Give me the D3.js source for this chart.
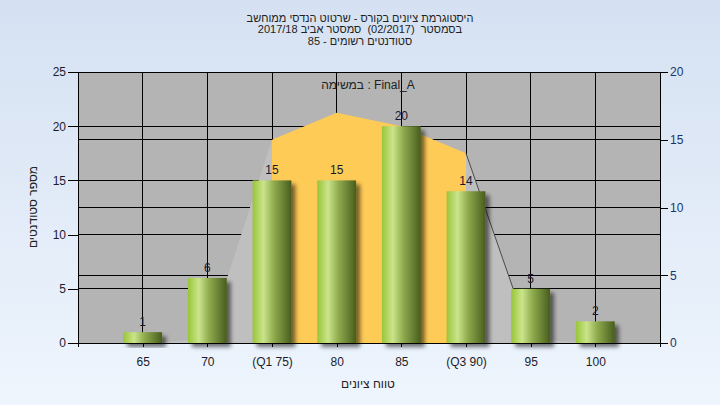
<!DOCTYPE html>
<html>
<head>
<meta charset="utf-8">
<script src="https://cdn.jsdelivr.net/npm/d3@7"></script>
<style>
  html, body { margin: 0; padding: 0; }
  body { width: 720px; height: 405px; overflow: hidden; }
  text { font-family: "Liberation Sans", "DejaVu Sans", Arial, sans-serif; }
</style>
</head>
<body>
<svg id="chart" width="720" height="405"></svg>
<script>
// ---- data ----
const categories = ["65", "70", "(Q1 75)", "80", "85", "(Q3 90)", "95", "100"];
const counts = [1, 6, 15, 15, 20, 14, 5, 2];
const curveValues = [0, 0.3, 15, 17, 16, 14, 0.3, 0];
const leftTicks = [0, 5, 10, 15, 20, 25];
const rightTicks = [0, 5, 10, 15, 20];
const titleLines = [
  "היסטוגרמת ציונים בקורס - שרטוט הנדסי ממוחשב",
  "בסמסטר  (02/2017)  סמסטר אביב 2017/18",
  "סטודנטים רשומים - 85"
];
const innerTitle = "במשימה : Final_A";
const xTitle = "טווח ציונים";
const yTitle = "מספר סטודנטים";
const q1Index = 2, q3Index = 5;

// ---- layout ----
const W = 720, H = 405;
const plot = { left: 78, right: 660, top: 72, bottom: 343 };

const svg = d3.select("#chart");
const defs = svg.append("defs");

const bgGrad = defs.append("linearGradient").attr("id", "bg").attr("x1", 0).attr("y1", 0).attr("x2", 0).attr("y2", 1);
bgGrad.append("stop").attr("offset", "0%").attr("stop-color", "#d5e1f2");
bgGrad.append("stop").attr("offset", "100%").attr("stop-color", "#eef5fd");

const barGrad = defs.append("linearGradient").attr("id", "barGrad").attr("x1", 0).attr("y1", 0).attr("x2", 1).attr("y2", 0);
[["0%", "#98c53a"], ["28%", "#cbe48b"], ["55%", "#8eab4d"], ["100%", "#485d1e"]].forEach(([o, c]) =>
  barGrad.append("stop").attr("offset", o).attr("stop-color", c));

const shadow = defs.append("filter").attr("id", "shadow").attr("x", "-20%").attr("y", "-20%").attr("width", "160%").attr("height", "160%");
shadow.append("feDropShadow").attr("dx", 4).attr("dy", 4).attr("stdDeviation", 2)
  .attr("flood-color", "#000").attr("flood-opacity", 0.55);

svg.append("rect").attr("width", W).attr("height", H).attr("fill", "url(#bg)");

// scales
const x = d3.scalePoint().domain(categories).range([plot.left, plot.right]).padding(1);
const y = d3.scaleLinear().domain([0, 25]).range([plot.bottom, plot.top]);
const y2 = d3.scaleLinear().domain([0, 20]).range([plot.bottom, plot.top]);

// plot background
svg.append("rect").attr("x", plot.left).attr("y", plot.top)
  .attr("width", plot.right - plot.left).attr("height", plot.bottom - plot.top)
  .attr("fill", "#b4b4b4");

// grid lines
const grid = svg.append("g").attr("stroke", "#000").attr("stroke-width", 1).attr("shape-rendering", "crispEdges");
leftTicks.filter(t => t > 0).forEach(t =>
  grid.append("line").attr("x1", plot.left).attr("x2", plot.right).attr("y1", y(t)).attr("y2", y(t)));
rightTicks.filter(t => t > 0).forEach(t =>
  grid.append("line").attr("x1", plot.left).attr("x2", plot.right).attr("y1", y2(t)).attr("y2", y2(t)));
categories.forEach(c =>
  grid.append("line").attr("x1", x(c)).attr("x2", x(c)).attr("y1", plot.top).attr("y2", plot.bottom));

// curve areas (secondary axis)
const pts = categories.map((c, i) => ({ c, v: curveValues[i], i }));
const area = d3.area().x(d => x(d.c)).y0(y2(0)).y1(d => y2(d.v));
svg.append("path").datum(pts.slice(0, q1Index + 1)).attr("d", area).attr("fill", "#bfbfbf");
svg.append("path").datum(pts.slice(q3Index)).attr("d", area).attr("fill", "#bfbfbf");
svg.append("path").datum(pts.slice(q1Index, q3Index + 1)).attr("d", area).attr("fill", "#fecb57");
svg.append("path").datum(pts.slice(q3Index, q3Index + 2))
  .attr("d", d3.line().x(d => x(d.c)).y(d => y2(d.v)))
  .attr("fill", "none").attr("stroke", "#4a4a4a").attr("stroke-width", 1);

// axes
const axisStyle = g => {
  g.selectAll("path, line").attr("stroke", "#000").attr("shape-rendering", "crispEdges");
  g.selectAll("text").attr("font-size", 12).attr("font-family", "\"Liberation Sans\", \"DejaVu Sans\", Arial, sans-serif");
};
svg.append("g").attr("transform", `translate(${plot.left},0)`)
  .call(d3.axisLeft(y).tickValues(leftTicks).tickSize(10).tickSizeOuter(0).tickPadding(2))
  .call(axisStyle).call(g => g.selectAll("text").attr("fill", "#1c1c2c"));
svg.append("g").attr("transform", `translate(${plot.right},0)`)
  .call(d3.axisRight(y2).tickValues(rightTicks).tickSize(8).tickSizeOuter(0).tickPadding(2))
  .call(axisStyle).call(g => g.selectAll("text").attr("fill", "#1b3468"));
svg.append("g").attr("transform", `translate(0,${plot.bottom})`)
  .call(d3.axisBottom(x).tickSize(4).tickSizeOuter(4).tickPadding(10))
  .call(axisStyle).call(g => g.selectAll("text").attr("fill", "#1c1c2c"));
svg.append("line").attr("x1", plot.left).attr("x2", plot.right).attr("y1", plot.top).attr("y2", plot.top)
  .attr("stroke", "#000").attr("shape-rendering", "crispEdges");

// bars
const bw = x.step() * 0.6;
svg.append("g").selectAll("rect").data(counts).join("rect")
  .attr("x", (d, i) => x(categories[i]) - bw / 2)
  .attr("y", d => y(d))
  .attr("width", bw)
  .attr("height", d => y(0) - y(d))
  .attr("fill", "url(#barGrad)")
  .attr("filter", "url(#shadow)");

// value labels
svg.append("g").selectAll("text").data(counts).join("text")
  .attr("x", (d, i) => x(categories[i]))
  .attr("y", d => y(d) - 6)
  .attr("text-anchor", "middle")
  .attr("font-size", 12)
  .attr("fill", "#151a30")
  .text(d => d);

// titles
svg.append("g").selectAll("text").data(titleLines).join("text")
  .attr("x", 360).attr("y", (d, i) => 21.5 + i * 11.5)
  .attr("text-anchor", "middle").attr("direction", "rtl").attr("unicode-bidi", "embed")
  .attr("font-size", 11).attr("fill", "#222")
  .style("white-space", "pre")
  .text(d => d);

svg.append("text").attr("x", 368).attr("y", 89).attr("text-anchor", "middle")
  .attr("direction", "ltr").attr("font-size", 12).attr("fill", "#222").text(innerTitle);

svg.append("text").attr("x", 368).attr("y", 388).attr("text-anchor", "middle")
  .attr("direction", "rtl").attr("font-size", 12).attr("fill", "#222").text(xTitle);

svg.append("text").attr("transform", "translate(37,207) rotate(-90)")
  .attr("text-anchor", "middle").attr("direction", "rtl")
  .attr("font-size", 12).attr("fill", "#222").text(yTitle);
</script>
</body>
</html>
